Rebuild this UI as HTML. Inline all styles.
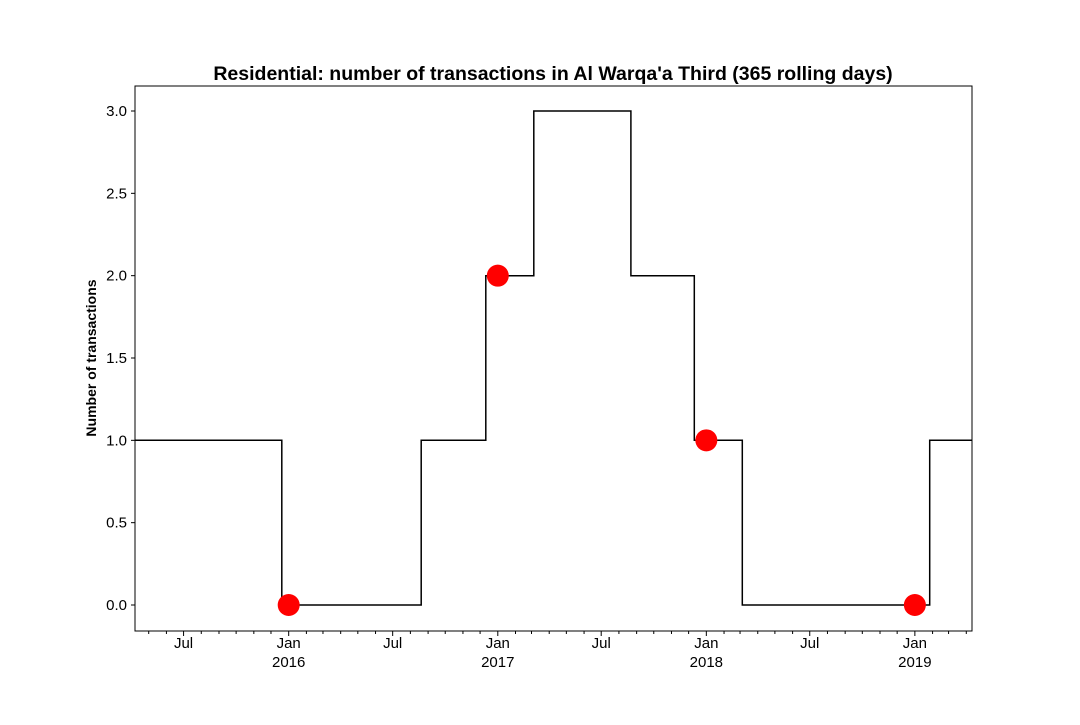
<!DOCTYPE html>
<html><head><meta charset="utf-8"><style>
body{margin:0;background:#fff}
svg text{font-family:"Liberation Sans","DejaVu Sans",sans-serif}
</style></head><body>
<svg id="chart" width="1080" height="720" xmlns="http://www.w3.org/2000/svg">
<rect width="1080" height="720" fill="#fff"/>
<text x="553" y="80" text-anchor="middle" font-size="19.5" font-weight="bold">Residential: number of transactions in Al Warqa'a Third (365 rolling days)</text>
<text transform="translate(96,358) rotate(-90)" text-anchor="middle" font-size="14" font-weight="bold">Number of transactions</text>
<g id="plot"></g>
</svg>
<script>
const stepDates=["2015-04-07","2015-12-20","2016-08-20","2016-12-11","2017-03-05","2017-08-22","2017-12-11","2018-03-05","2019-01-27","2019-04-11"];
const stepValues=[1,0,1,2,3,2,1,0,1,1];
const pointDates=["2016-01-01","2017-01-01","2018-01-01","2019-01-01"];
const pointValues=[0,2,1,0];
const yTicks=[0,0.5,1,1.5,2,2.5,3];
const yTickLabels=["0.0","0.5","1.0","1.5","2.0","2.5","3.0"];
const xStart="2015-04-07", xEnd="2019-04-11";

const L=135,R=972,T=86,B=631;
const t0=Date.parse(xStart), t1=Date.parse(xEnd);
const xs=d=>L+(Date.parse(d)-t0)/(t1-t0)*(R-L);
const ys=v=>605-v*(605-111)/3;
const NS="http://www.w3.org/2000/svg";
const g=document.getElementById('plot');
function mk(tag,attrs){const e=document.createElementNS(NS,tag);for(const k in attrs)e.setAttribute(k,attrs[k]);g.appendChild(e);return e;}

let d="";
for(let i=0;i<stepDates.length-1;i++){
  const x0=xs(stepDates[i]),x1=xs(stepDates[i+1]),y=ys(stepValues[i]);
  d+=(i===0?"M":"L")+x0.toFixed(1)+","+y.toFixed(1)+"L"+x1.toFixed(1)+","+y.toFixed(1);
}
const line=mk('path',{d:d,fill:'none',stroke:'#000','stroke-width':1.5});



pointDates.forEach((pd,i)=>{
  const c=mk('circle',{cx:xs(pd),cy:ys(pointValues[i]),r:11,fill:'#f00'});
  
  
});

const frame=mk('rect',{x:L,y:T,width:R-L,height:B-T,fill:'none',stroke:'#000','stroke-width':1});



yTicks.forEach((v,i)=>{
  const y=ys(v);
  const tk=mk('line',{x1:L-4,x2:L,y1:y,y2:y,stroke:'#000'});
  
  
  const tx=mk('text',{x:L-8,y:y+5,'text-anchor':'end','font-size':15});
  tx.textContent=yTickLabels[i];
  
  
});

for(let yr=2015;yr<=2019;yr++){
  for(let m=0;m<12;m++){
    const ds=yr+"-"+String(m+1).padStart(2,'0')+"-01";
    const x=xs(ds);
    if(x<L-0.5||x>R+0.5)continue;
    const major=(m===0||m===6);
    const tk=mk('line',{x1:x,x2:x,y1:B,y2:B+(major?5:3),stroke:'#000'});
    
    
    if(major){
      const tx=mk('text',{x:x,y:B+17,'text-anchor':'middle','font-size':15});
      tx.textContent=m===0?"Jan":"Jul";
      
      
      if(m===0){
        const t2=mk('text',{x:x,y:B+36,'text-anchor':'middle','font-size':15});
        t2.textContent=String(yr);
        
        
      }
    }
  }
}
</script>
</body></html>
